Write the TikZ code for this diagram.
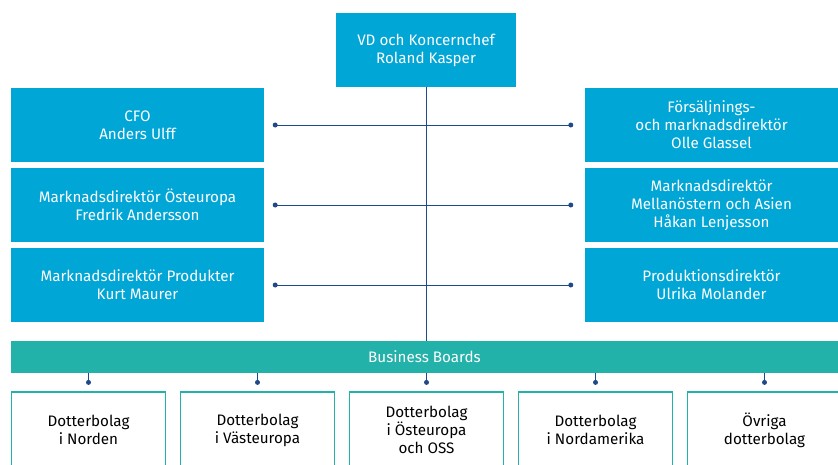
\documentclass[tikz,border=0pt]{standalone}
\usepackage{fontspec}
\setmainfont{Fira Sans}
\usetikzlibrary{positioning}
\definecolor{boxblue}{HTML}{00A6D6}
\definecolor{boardteal}{HTML}{22B2AA}
\definecolor{linenavy}{HTML}{1F4A8A}
\tikzstyle{blue box}  = [fill=boxblue, text=white, inner sep=0, align=center]
\tikzstyle{sub box}   = [draw=boardteal, line width=1.2pt, fill=white, text=black, minimum width=154pt, minimum height=76pt, inner sep=0, align=center]
\tikzstyle{end dot}   = [circle, fill=linenavy, inner sep=0, minimum size=5pt]

\begin{document}
\begin{tikzpicture}[x=1pt, y=-1pt,
                    font=\fontsize{15.2}{18}\selectfont
                    ]
\tikzstyle{side box}=[blue box, minimum width=253pt, minimum height=74pt]
\tikzstyle{link}=[draw=linenavy, line width=0.9pt]

    \useasboundingbox (0,0) rectangle (838,464);

    % management
    \node(vd)[blue box, minimum width=180pt, minimum height=74pt] at (426,50) {VD och Koncernchef\\Roland Kasper};

    \node(cfo)[side box]   at (137.5,125) {CFO\\Anders Ulff};
    \node(east)[side box]  at (137.5,205) {Marknadsdirektör Östeuropa\\Fredrik Andersson};
    \node(prod)[side box]  at (137.5,285) {Marknadsdirektör Produkter\\Kurt Maurer};
    \node(sales)[side box] at (711.5,125) {Försäljnings-\\och marknadsdirektör\\Olle Glassel};
    \node(mideast)[side box] at (711.5,205) {Marknadsdirektör\\Mellanöstern och Asien\\Håkan Lenjesson};
    \node(manuf)[side box] at (711.5,285) {Produktionsdirektör\\Ulrika Molander};

    \node(boards)[fill=boardteal, text=white, minimum width=827pt, minimum height=32pt, inner sep=0] at (424.5,357) {Business Boards};

    \draw[link](vd.south)--(vd.south |- boards.north);

    \foreach \l/\r in {cfo/sales, east/mideast, prod/manuf}{
        \coordinate(\l-end) at ([xshift=11pt]\l.east);
        \coordinate(\r-end) at ([xshift=-14pt]\r.west);
        \draw[link](\l-end)--(\r-end);
        \node[end dot] at (\l-end) {};
        \node[end dot] at (\r-end) {};
    }

    % subsidiaries
    \foreach \i/\txt in {0/{Dotterbolag\\i Norden}, 1/{Dotterbolag\\i Västeuropa}, 2/{Dotterbolag\\i Östeuropa\\och OSS}, 3/{Dotterbolag\\i Nordamerika}, 4/{Övriga\\dotterbolag}}{
        \node(sub\i)[sub box] at (88.5+169*\i,430) {\txt};
        \coordinate(sub\i-top) at ([yshift=9pt]sub\i.north);
        \draw[link](boards.south -| sub\i-top)--(sub\i-top);
        \node[end dot] at (sub\i-top) {};
    }

\end{tikzpicture}
\end{document}
